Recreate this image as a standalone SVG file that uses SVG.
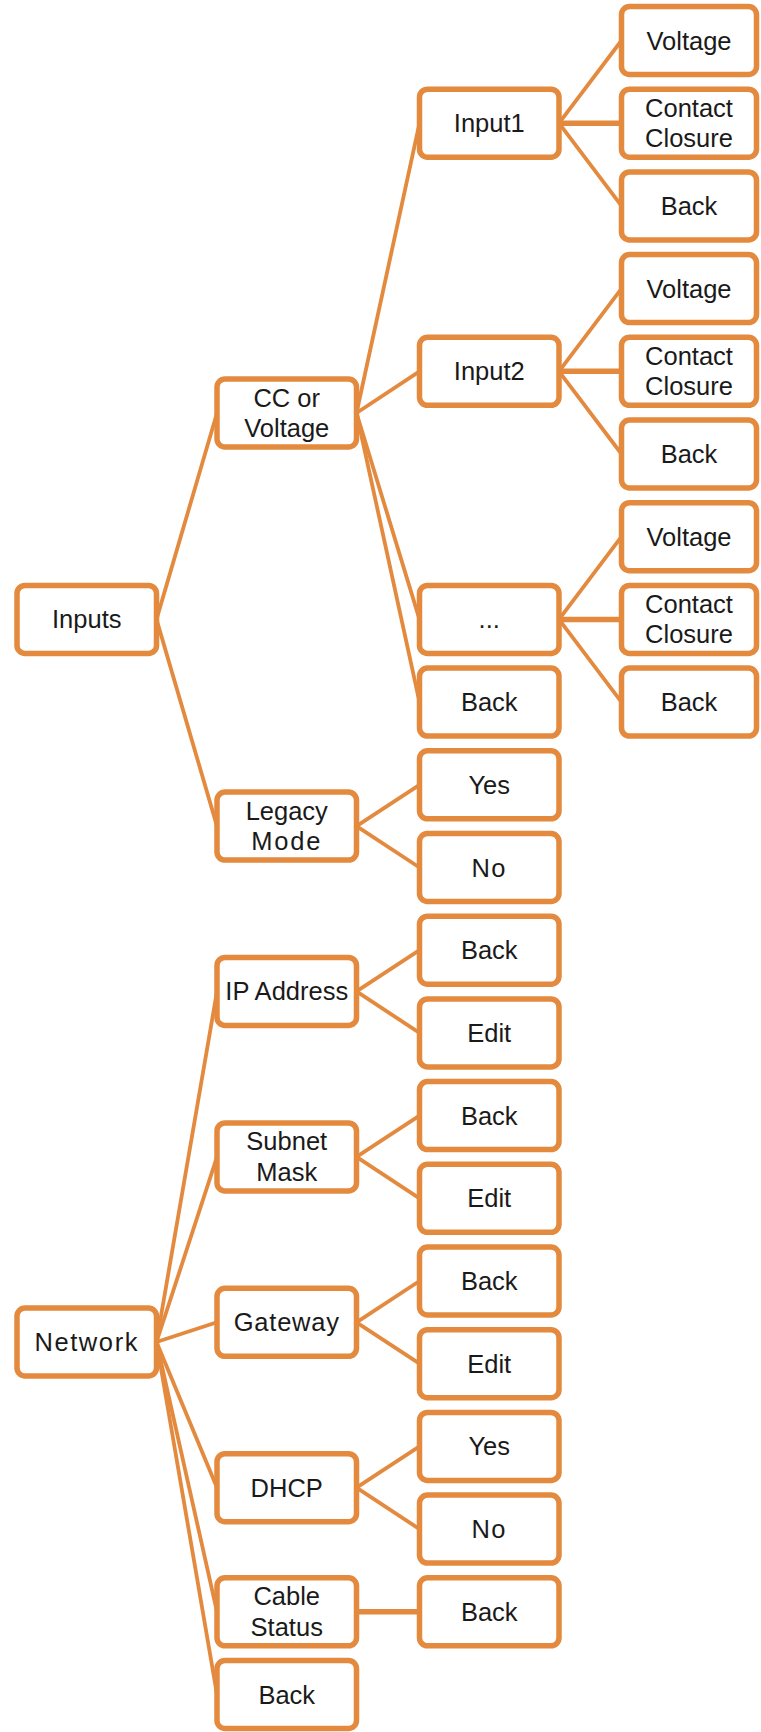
<svg xmlns="http://www.w3.org/2000/svg" width="761" height="1732" viewBox="0 0 761 1732">
<style>
.b{fill:#fff;stroke:#E38A3F;stroke-width:5.5}
.c{stroke:#E38A3F;stroke-width:3.8;fill:none;stroke-linecap:round}
.h{stroke-width:5.5}
text{font-family:"Liberation Sans",Arial,sans-serif;font-size:25.5px;fill:#1a1a1a;text-anchor:middle}
</style>
<rect width="761" height="1732" fill="#fff"/>
<g id="connectors">
<line class="c" x1="156.5" y1="619.4" x2="217" y2="413"/>
<line class="c" x1="156.5" y1="619.4" x2="217" y2="826.1"/>
<line class="c" x1="356.5" y1="413" x2="419.5" y2="123.2"/>
<line class="c" x1="356.5" y1="413" x2="419.5" y2="371.3"/>
<line class="c" x1="356.5" y1="413" x2="419.5" y2="619.4"/>
<line class="c" x1="356.5" y1="413" x2="419.5" y2="702.1"/>
<line class="c" x1="559" y1="123.2" x2="621.5" y2="40.5"/>
<line class="c h" x1="559" y1="123.2" x2="621.5" y2="123.2"/>
<line class="c" x1="559" y1="123.2" x2="621.5" y2="205.9"/>
<line class="c" x1="559" y1="371.3" x2="621.5" y2="288.6"/>
<line class="c h" x1="559" y1="371.3" x2="621.5" y2="371.3"/>
<line class="c" x1="559" y1="371.3" x2="621.5" y2="454"/>
<line class="c" x1="559" y1="619.4" x2="621.5" y2="536.7"/>
<line class="c h" x1="559" y1="619.4" x2="621.5" y2="619.4"/>
<line class="c" x1="559" y1="619.4" x2="621.5" y2="702.1"/>
<line class="c" x1="356.5" y1="826.1" x2="419.5" y2="784.8"/>
<line class="c" x1="356.5" y1="826.1" x2="419.5" y2="867.5"/>
<line class="c" x1="156.5" y1="1342" x2="217" y2="991.4"/>
<line class="c" x1="156.5" y1="1342" x2="217" y2="1156.9"/>
<line class="c" x1="156.5" y1="1342" x2="217" y2="1322.3"/>
<line class="c" x1="156.5" y1="1342" x2="217" y2="1487.7"/>
<line class="c" x1="156.5" y1="1342" x2="217" y2="1611.8"/>
<line class="c" x1="156.5" y1="1342" x2="217" y2="1694.5"/>
<line class="c" x1="356.5" y1="991.4" x2="419.5" y2="950.2"/>
<line class="c" x1="356.5" y1="991.4" x2="419.5" y2="1032.9"/>
<line class="c" x1="356.5" y1="1156.9" x2="419.5" y2="1115.6"/>
<line class="c" x1="356.5" y1="1156.9" x2="419.5" y2="1198.3"/>
<line class="c" x1="356.5" y1="1322.3" x2="419.5" y2="1281"/>
<line class="c" x1="356.5" y1="1322.3" x2="419.5" y2="1363.7"/>
<line class="c" x1="356.5" y1="1487.7" x2="419.5" y2="1446.4"/>
<line class="c" x1="356.5" y1="1487.7" x2="419.5" y2="1529.1"/>
<line class="c h" x1="356.5" y1="1611.8" x2="419.5" y2="1611.8"/>
</g>
<g id="n-inputs"><rect class="b" x="17" y="585.4" width="139.5" height="68" rx="8"/><text x="86.75" y="628.4">Inputs</text></g>
<g id="n-network"><rect class="b" x="17" y="1308" width="139.5" height="68" rx="8"/><text x="86.75" y="1351" letter-spacing="1.6">Network</text></g>
<g id="n-ccvolt"><rect class="b" x="217" y="379" width="139.5" height="68" rx="8"/><text x="286.75" y="406.5">CC or</text><text x="286.75" y="437">Voltage</text></g>
<g id="n-legacy"><rect class="b" x="217" y="792.1" width="139.5" height="68" rx="8"/><text x="286.75" y="819.6">Legacy</text><text x="286.75" y="850.1" letter-spacing="1.8">Mode</text></g>
<g id="n-ip"><rect class="b" x="217" y="957.4" width="139.5" height="68" rx="8"/><text x="286.75" y="1000.4">IP Address</text></g>
<g id="n-subnet"><rect class="b" x="217" y="1122.9" width="139.5" height="68" rx="8"/><text x="286.75" y="1150.4">Subnet</text><text x="286.75" y="1180.9">Mask</text></g>
<g id="n-gateway"><rect class="b" x="217" y="1288.3" width="139.5" height="68" rx="8"/><text x="286.75" y="1331.3" letter-spacing="0.8">Gateway</text></g>
<g id="n-dhcp"><rect class="b" x="217" y="1453.7" width="139.5" height="68" rx="8"/><text x="286.75" y="1496.7">DHCP</text></g>
<g id="n-cable"><rect class="b" x="217" y="1577.8" width="139.5" height="68" rx="8"/><text x="286.75" y="1605.3">Cable</text><text x="286.75" y="1635.8">Status</text></g>
<g id="n-netback"><rect class="b" x="217" y="1660.5" width="139.5" height="68" rx="8"/><text x="286.75" y="1703.5">Back</text></g>
<g id="n-input1"><rect class="b" x="419.5" y="89.2" width="139.5" height="68" rx="8"/><text x="489.25" y="132.2">Input1</text></g>
<g id="n-input2"><rect class="b" x="419.5" y="337.3" width="139.5" height="68" rx="8"/><text x="489.25" y="380.3">Input2</text></g>
<g id="n-dots"><rect class="b" x="419.5" y="585.4" width="139.5" height="68" rx="8"/><text x="489.25" y="628.4">...</text></g>
<g id="n-ccback"><rect class="b" x="419.5" y="668.1" width="139.5" height="68" rx="8"/><text x="489.25" y="711.1">Back</text></g>
<g id="n-legyes"><rect class="b" x="419.5" y="750.8" width="139.5" height="68" rx="8"/><text x="489.25" y="793.8">Yes</text></g>
<g id="n-legno"><rect class="b" x="419.5" y="833.5" width="139.5" height="68" rx="8"/><text x="489.25" y="876.5" letter-spacing="1.5">No</text></g>
<g id="n-ipback"><rect class="b" x="419.5" y="916.2" width="139.5" height="68" rx="8"/><text x="489.25" y="959.2">Back</text></g>
<g id="n-ipedit"><rect class="b" x="419.5" y="998.9" width="139.5" height="68" rx="8"/><text x="489.25" y="1041.9">Edit</text></g>
<g id="n-snback"><rect class="b" x="419.5" y="1081.6" width="139.5" height="68" rx="8"/><text x="489.25" y="1124.6">Back</text></g>
<g id="n-snedit"><rect class="b" x="419.5" y="1164.3" width="139.5" height="68" rx="8"/><text x="489.25" y="1207.3">Edit</text></g>
<g id="n-gwback"><rect class="b" x="419.5" y="1247" width="139.5" height="68" rx="8"/><text x="489.25" y="1290">Back</text></g>
<g id="n-gwedit"><rect class="b" x="419.5" y="1329.7" width="139.5" height="68" rx="8"/><text x="489.25" y="1372.7">Edit</text></g>
<g id="n-dhyes"><rect class="b" x="419.5" y="1412.4" width="139.5" height="68" rx="8"/><text x="489.25" y="1455.4">Yes</text></g>
<g id="n-dhno"><rect class="b" x="419.5" y="1495.1" width="139.5" height="68" rx="8"/><text x="489.25" y="1538.1" letter-spacing="1.5">No</text></g>
<g id="n-cbback"><rect class="b" x="419.5" y="1577.8" width="139.5" height="68" rx="8"/><text x="489.25" y="1620.8">Back</text></g>
<g id="n-i1volt"><rect class="b" x="621.5" y="6.5" width="135" height="68" rx="8"/><text x="689" y="49.5">Voltage</text></g>
<g id="n-i1cc"><rect class="b" x="621.5" y="89.2" width="135" height="68" rx="8"/><text x="689" y="116.7">Contact</text><text x="689" y="147.2">Closure</text></g>
<g id="n-i1back"><rect class="b" x="621.5" y="171.9" width="135" height="68" rx="8"/><text x="689" y="214.9">Back</text></g>
<g id="n-i2volt"><rect class="b" x="621.5" y="254.6" width="135" height="68" rx="8"/><text x="689" y="297.6">Voltage</text></g>
<g id="n-i2cc"><rect class="b" x="621.5" y="337.3" width="135" height="68" rx="8"/><text x="689" y="364.8">Contact</text><text x="689" y="395.3">Closure</text></g>
<g id="n-i2back"><rect class="b" x="621.5" y="420" width="135" height="68" rx="8"/><text x="689" y="463">Back</text></g>
<g id="n-i3volt"><rect class="b" x="621.5" y="502.7" width="135" height="68" rx="8"/><text x="689" y="545.7">Voltage</text></g>
<g id="n-i3cc"><rect class="b" x="621.5" y="585.4" width="135" height="68" rx="8"/><text x="689" y="612.9">Contact</text><text x="689" y="643.4">Closure</text></g>
<g id="n-i3back"><rect class="b" x="621.5" y="668.1" width="135" height="68" rx="8"/><text x="689" y="711.1">Back</text></g>
</svg>
